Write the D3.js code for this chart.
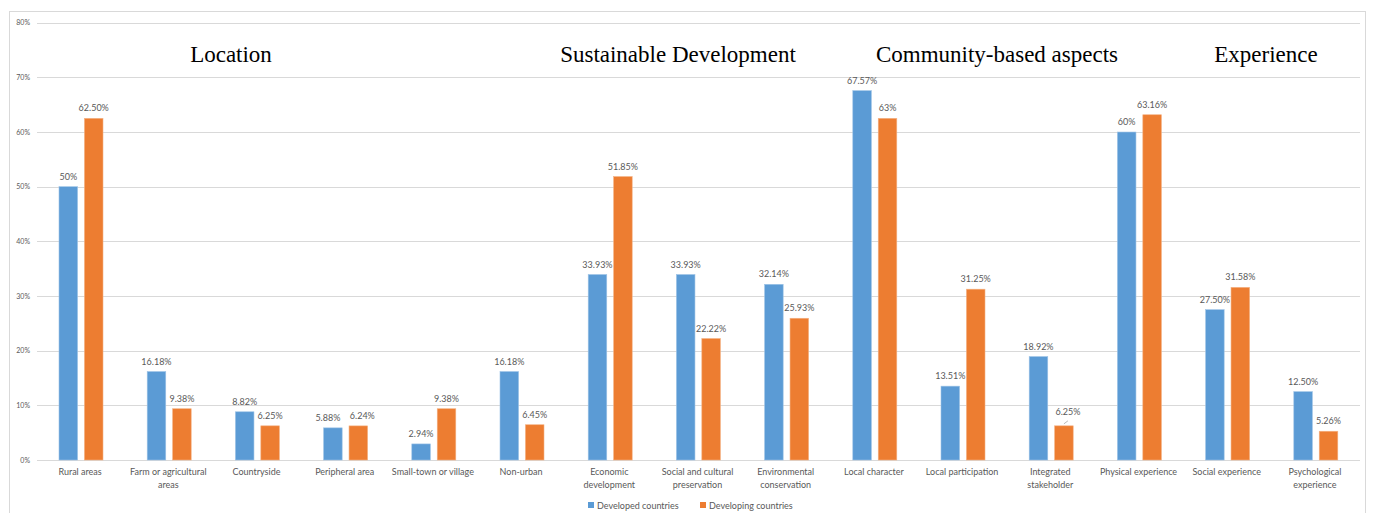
<!DOCTYPE html>
<html lang="en">
<head>
<meta charset="UTF-8">
<title>Rural tourism definitions</title>
<style>
    body { margin: 0; background: #FFFFFF; }
    svg { display: block; }
    .tick-label, .cat-label, .value-label, .legend-label {
        font-family: Lato, "Open Sans", sans-serif;
        fill: #595959;
    }
    .section-title {
        font-family: "Liberation Serif", "Times New Roman", serif;
        fill: #000000;
    }
</style>
</head>
<body>
<div id="chart"></div>
<script src="https://cdn.jsdelivr.net/npm/d3@7"></script>
<script>
    // Chart data
    const categories = [
        "Rural areas", "Farm or agricultural areas", "Countryside", "Peripheral area",
        "Small-town or village", "Non-urban", "Economic development",
        "Social and cultural preservation", "Environmental conservation",
        "Local character", "Local participation", "Integrated stakeholder",
        "Physical experience", "Social experience", "Psychological experience"
    ];
    // category labels as they wrap on the axis
    const categoryLines = [
        ["Rural areas"], ["Farm or agricultural", "areas"], ["Countryside"], ["Peripheral area"],
        ["Small-town or village"], ["Non-urban"], ["Economic", "development"],
        ["Social and cultural", "preservation"], ["Environmental", "conservation"],
        ["Local character"], ["Local participation"], ["Integrated", "stakeholder"],
        ["Physical experience"], ["Social experience"], ["Psychological", "experience"]
    ];
    const seriesNames = ["Developed countries", "Developing countries"];
    const developed = [50, 16.18, 8.82, 5.88, 2.94, 16.18, 33.93, 33.93, 32.14, 67.57, 13.51, 18.92, 60, 27.5, 12.5];
    const developing = [62.5, 9.38, 6.25, 6.24, 9.38, 6.45, 51.85, 22.22, 25.93, 62.5, 31.25, 6.25, 63.16, 31.58, 5.26];
    const developedLabels = ["50%", "16.18%", "8.82%", "5.88%", "2.94%", "16.18%", "33.93%", "33.93%", "32.14%", "67.57%", "13.51%", "18.92%", "60%", "27.50%", "12.50%"];
    const developingLabels = ["62.50%", "9.38%", "6.25%", "6.24%", "9.38%", "6.45%", "51.85%", "22.22%", "25.93%", "63%", "31.25%", "6.25%", "63.16%", "31.58%", "5.26%"];
    const yTicks = [0, 10, 20, 30, 40, 50, 60, 70, 80];
    const sectionTitles = ["Location", "Sustainable Development", "Community-based aspects", "Experience"];

    const colors = ["#5B9BD5", "#ED7D31"];
    const width = 1373, height = 513;

    const svg = d3.select("#chart").append("svg")
        .attr("width", width)
        .attr("height", height);

    // outer chart frame
    svg.append("rect")
        .attr("x", 9.5).attr("y", 11.5)
        .attr("width", 1356).attr("height", 520)
        .attr("fill", "none")
        .attr("stroke", "#D9D9D9");

    const x = d3.scaleBand().domain(categories).range([36, 1359]);
    const xInner = d3.scaleBand().domain(seriesNames).range([23, 67]).paddingInner(0.27);
    const y = d3.scaleLinear().domain([0, 80]).range([460, 22.7]);

    // gridlines
    svg.append("g").selectAll("line")
        .data(yTicks)
        .join("line")
        .attr("x1", 37).attr("x2", 1360)
        .attr("y1", d => Math.round(y(d)) + 0.5)
        .attr("y2", d => Math.round(y(d)) + 0.5)
        .attr("stroke", "#D9D9D9")
        .attr("stroke-width", 1);

    // y tick labels
    svg.append("g").selectAll("text")
        .data(yTicks)
        .join("text")
        .attr("class", "tick-label")
        .attr("x", 30)
        .attr("y", d => y(d) + 2.5)
        .attr("text-anchor", "end")
        .attr("font-size", "7px")
        .text(d => d + "%");

    // bars + value labels
    const series = [
        { name: seriesNames[0], values: developed, labels: developedLabels },
        { name: seriesNames[1], values: developing, labels: developingLabels }
    ];

    // small nudges where Excel moved labels apart
    function labelDx(si, i) {
        if (i === 3) return si === 0 ? -5 : 4;   // Peripheral area
        if (si === 1 && i === 11) return 4;      // Integrated stakeholder (leader line)
        return 0;
    }

    series.forEach((s, si) => {
        const g = svg.append("g");
        g.selectAll("rect")
            .data(s.values)
            .join("rect")
            .attr("x", (d, i) => x(categories[i]) + xInner(s.name))
            .attr("y", d => y(d))
            .attr("width", xInner.bandwidth())
            .attr("height", d => y(0) - y(d))
            .attr("fill", colors[si])
            .attr("stroke", si === 0 ? "#9DC3E6" : "#F4B183")
            .attr("stroke-width", 0.6);

        g.selectAll("text")
            .data(s.values)
            .join("text")
            .attr("class", "value-label")
            .attr("x", (d, i) => x(categories[i]) + xInner(s.name) + xInner.bandwidth() / 2 + labelDx(si, i))
            .attr("y", (d, i) => y(d) - (si === 1 && i === 11 ? 11 : 7))
            .attr("text-anchor", "middle")
            .attr("font-size", "9px")
            .text((d, i) => s.labels[i]);
    });

    // leader line for the moved label (Integrated stakeholder, developing)
    {
        const i = 11;
        const cx = x(categories[i]) + xInner(seriesNames[1]) + xInner.bandwidth() / 2;
        svg.append("line")
            .attr("x1", cx).attr("y1", y(developing[i]) - 2)
            .attr("x2", cx + 4).attr("y2", y(developing[i]) - 5)
            .attr("stroke", "#A6A6A6")
            .attr("stroke-width", 0.8);
    }

    // category labels
    const catG = svg.append("g").selectAll("text")
        .data(categories)
        .join("text")
        .attr("class", "cat-label")
        .attr("text-anchor", "middle")
        .attr("font-size", "9px")
        .attr("x", d => x(d) + x.bandwidth() / 2)
        .attr("y", 475);
    catG.each(function (d, i) {
        d3.select(this).selectAll("tspan")
            .data(categoryLines[i])
            .join("tspan")
            .attr("x", x(d) + x.bandwidth() / 2)
            .attr("dy", (t, j) => j === 0 ? 0 : 12.5)
            .text(t => t);
    });

    // section titles
    const sectionCenters = [231, 678, 997, 1266];
    svg.append("g").selectAll("text")
        .data(sectionTitles)
        .join("text")
        .attr("class", "section-title")
        .attr("x", (d, i) => sectionCenters[i])
        .attr("y", 62)
        .attr("text-anchor", "middle")
        .attr("font-size", "23px")
        .text(d => d);

    // legend
    const legend = svg.append("g").attr("transform", "translate(588, 502)");
    const legendX = [0, 112];
    seriesNames.forEach((name, i) => {
        legend.append("rect")
            .attr("x", legendX[i]).attr("y", 0)
            .attr("width", 6).attr("height", 6)
            .attr("fill", colors[i]);
        legend.append("text")
            .attr("class", "legend-label")
            .attr("x", legendX[i] + 9)
            .attr("y", 6.5)
            .attr("font-size", "9px")
            .text(name);
    });
</script>
</body>
</html>
